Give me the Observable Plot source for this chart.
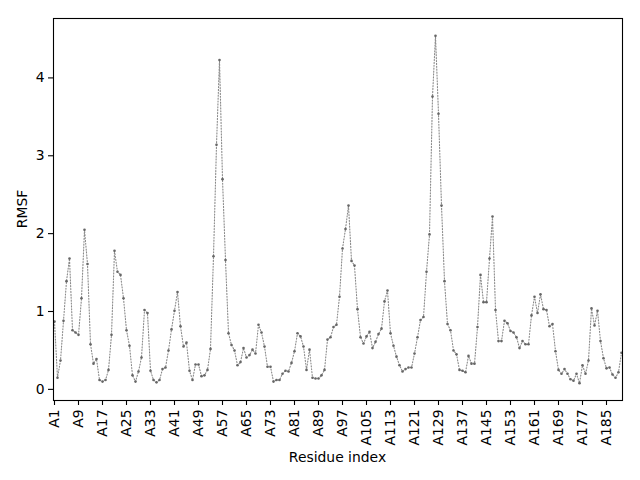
<!DOCTYPE html>
<html><head><meta charset="utf-8">
<script src="https://cdn.jsdelivr.net/npm/d3@7"></script>
<script src="https://cdn.jsdelivr.net/npm/@observablehq/plot@0.6"></script>
<style>body{margin:0;background:#fff} svg{display:block}</style>
</head><body><div id="chart"></div>
<script>
const rmsf = [
  0.87,0.15,0.37,0.88,1.39,1.68,0.76,0.73,0.70,1.17,
  2.05,1.61,0.58,0.33,0.39,0.12,0.10,0.12,0.25,0.70,
  1.78,1.51,1.47,1.17,0.76,0.56,0.18,0.10,0.23,0.41,
  1.02,0.98,0.24,0.12,0.09,0.12,0.26,0.28,0.50,0.77,
  1.01,1.25,0.81,0.55,0.60,0.24,0.12,0.32,0.32,0.17,
  0.18,0.25,0.52,1.71,3.14,4.23,2.70,1.66,0.72,0.57,
  0.50,0.31,0.35,0.53,0.41,0.44,0.51,0.46,0.83,0.73,
  0.55,0.29,0.29,0.10,0.12,0.12,0.20,0.24,0.23,0.34,
  0.49,0.72,0.68,0.55,0.25,0.51,0.15,0.14,0.14,0.18,
  0.25,0.64,0.67,0.80,0.83,1.19,1.81,2.06,2.36,1.65,
  1.59,1.03,0.67,0.59,0.68,0.74,0.53,0.61,0.71,0.78,
  1.13,1.27,0.72,0.56,0.42,0.31,0.23,0.26,0.28,0.28,
  0.46,0.67,0.89,0.93,1.51,1.99,3.76,4.54,3.54,2.36,
  1.39,0.84,0.76,0.50,0.45,0.25,0.24,0.22,0.43,0.33,
  0.33,0.80,1.47,1.12,1.12,1.68,2.22,1.02,0.62,0.62,
  0.88,0.85,0.75,0.73,0.67,0.53,0.62,0.58,0.58,0.95,
  1.19,0.98,1.22,1.03,1.02,0.81,0.84,0.49,0.25,0.20,
  0.26,0.20,0.13,0.11,0.20,0.08,0.31,0.20,0.37,1.04,
  0.82,1.01,0.62,0.40,0.27,0.28,0.19,0.15,0.22,0.47
];
const residues = rmsf.map((_, i) => "A" + (i + 1));
const xTickLabels = ["A1","A9","A17","A25","A33","A41","A49","A57","A65","A73","A81","A89",
  "A97","A105","A113","A121","A129","A137","A145","A153","A161","A169","A177","A185"];
const yTicks = [0, 1, 2, 3, 4];
const xLabel = "Residue index";
const yLabel = "RMSF";

const data = residues.map((r, i) => ({residue: r, rmsf: rmsf[i]}));
const [lo, hi] = d3.extent(rmsf);
const pad = (hi - lo) * 0.05;

const chart = Plot.plot({
  width: 640, height: 480,
  marginLeft: 53, marginRight: 18, marginTop: 18, marginBottom: 80,
  style: "font-family: 'DejaVu Sans'; font-size: 13.9px; color: #000; background: #fff;",
  x: {type: "point", domain: residues, padding: 0, label: null},
  y: {domain: [lo - pad, hi + pad], label: null},
  marks: [
    Plot.line(data, {x: "residue", y: "rmsf", stroke: "#8a8a8a", strokeWidth: 1.1, strokeDasharray: "1.1,1.8"}),
    Plot.dot(data, {x: "residue", y: "rmsf", r: 1.3, fill: "#666", stroke: null}),
    Plot.frame({stroke: "#000", strokeWidth: 1.1}),
    Plot.axisX(xTickLabels, {tickRotate: -90, tickSize: 5, tickPadding: 4, label: null, strokeWidth: 1.1}),
    Plot.axisY(yTicks, {tickSize: 5, tickPadding: 4, label: null, strokeWidth: 1.1, tickFormat: d3.format("d")})
  ]
});

const svg = d3.select(chart);
svg.append("text").attr("x", 337.5).attr("y", 462).attr("text-anchor", "middle")
  .attr("font-size", "13.9px").attr("fill", "#000").text(xLabel);
svg.append("text").attr("transform", "translate(27,209) rotate(-90)").attr("text-anchor", "middle")
  .attr("font-size", "13.9px").attr("fill", "#000").text(yLabel);

document.getElementById("chart").appendChild(chart);
</script>
</body></html>
